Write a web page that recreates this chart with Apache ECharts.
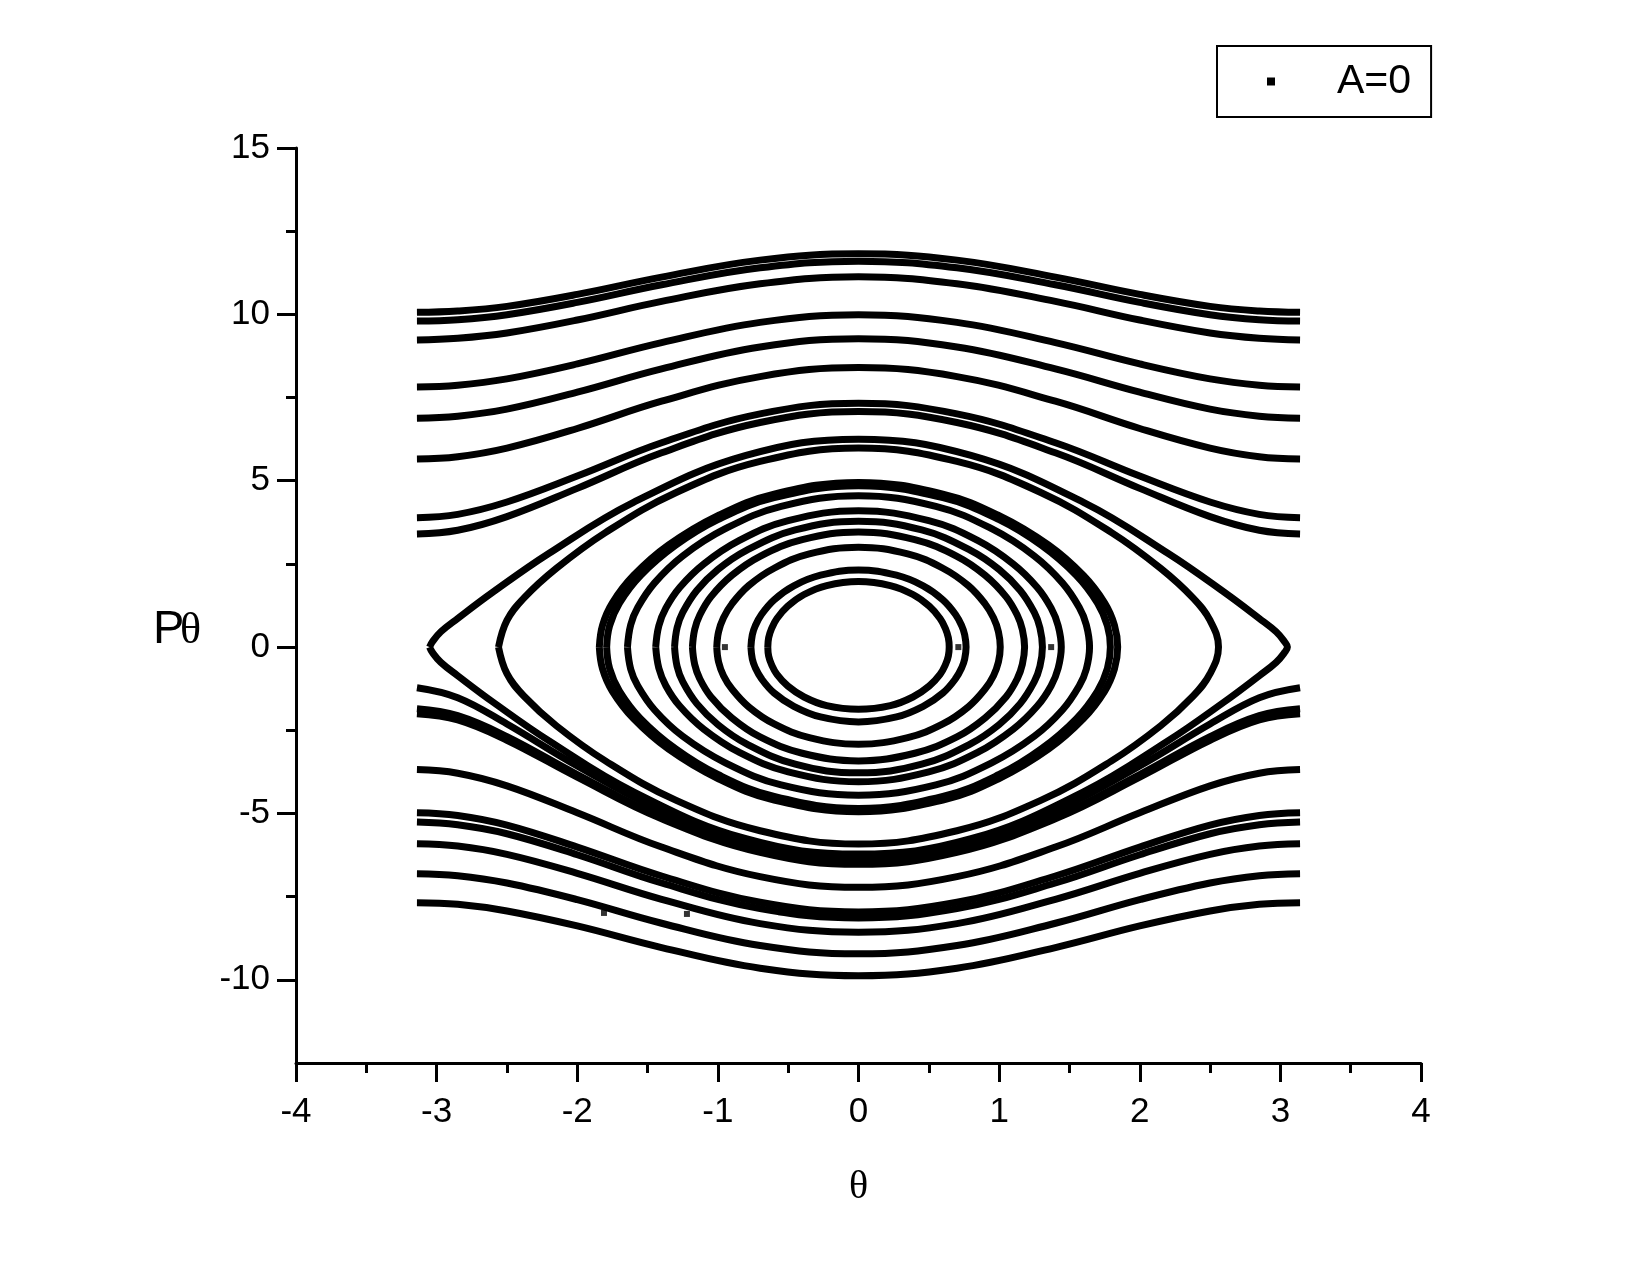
<!DOCTYPE html>
<html><head><meta charset="utf-8">
<script src="https://cdn.jsdelivr.net/npm/echarts@6/dist/echarts.min.js"></script>
<style>html,body{margin:0;padding:0;background:#fff}#c{width:1650px;height:1275px}</style>
</head><body><div id="c"></div>
<script>
// ---- data ----
const xTicks = [-4, -3, -2, -1, 0, 1, 2, 3, 4];
const yTicks = [-10, -5, 0, 5, 10, 15];
const yMinorTicks = [-7.5, -2.5, 2.5, 7.5, 12.5];
const yMin = -12.5, yMax = 15;
const seriesName = 'A=0';

// rotating (open) trajectories, sampled at these theta values
const rotTheta = [-3.14, -2.85, -2.5, -2.0, -1.4, -0.7, 0, 0.7, 1.4, 2.0, 2.5, 2.85, 3.14];
const upperRotations = [
  [10.06, 10.10, 10.24, 10.60, 11.12, 11.63, 11.82, 11.63, 11.12, 10.60, 10.24, 10.10, 10.06],
  [9.80, 9.84, 9.99, 10.36, 10.89, 11.40, 11.60, 11.40, 10.89, 10.36, 9.99, 9.84, 9.80],
  [9.23, 9.28, 9.44, 9.83, 10.39, 10.92, 11.13, 10.92, 10.39, 9.83, 9.44, 9.28, 9.23],
  [7.82, 7.87, 8.06, 8.51, 9.15, 9.76, 9.99, 9.76, 9.15, 8.51, 8.06, 7.87, 7.82],
  [6.88, 6.94, 7.15, 7.66, 8.36, 9.02, 9.27, 9.02, 8.36, 7.66, 7.15, 6.94, 6.88],
  [5.65, 5.72, 5.98, 6.57, 7.39, 8.13, 8.40, 8.13, 7.39, 6.57, 5.98, 5.72, 5.65],
  [3.89, 3.99, 4.36, 5.14, 6.14, 7.01, 7.33, 7.01, 6.14, 5.14, 4.36, 3.99, 3.89],
  [3.40, 3.51, 3.92, 4.77, 5.84, 6.75, 7.08, 6.75, 5.84, 4.77, 3.92, 3.51, 3.40]
];
const lowerRotations = [
  [-1.22, -1.52, -2.31, -3.57, -4.91, -5.96, -6.33, -5.96, -4.91, -3.57, -2.31, -1.52, -1.22],
  [-1.85, -2.06, -2.69, -3.83, -5.10, -6.12, -6.48, -6.12, -5.10, -3.83, -2.69, -2.06, -1.85],
  [-2.00, -2.19, -2.80, -3.91, -5.16, -6.17, -6.53, -6.17, -5.16, -3.91, -2.80, -2.19, -2.00],
  [-3.68, -3.79, -4.17, -4.98, -6.01, -6.90, -7.22, -6.90, -6.01, -4.98, -4.17, -3.79, -3.68],
  [-4.98, -5.06, -5.35, -6.01, -6.88, -7.67, -7.96, -7.67, -6.88, -6.01, -5.35, -5.06, -4.98],
  [-5.26, -5.34, -5.61, -6.24, -7.09, -7.86, -8.14, -7.86, -7.09, -6.24, -5.61, -5.34, -5.26],
  [-5.91, -5.98, -6.23, -6.80, -7.58, -8.31, -8.57, -8.31, -7.58, -6.80, -6.23, -5.98, -5.91],
  [-6.81, -6.87, -7.09, -7.59, -8.30, -8.97, -9.22, -8.97, -8.30, -7.59, -7.09, -6.87, -6.81],
  [-7.68, -7.73, -7.93, -8.38, -9.03, -9.65, -9.88, -9.65, -9.03, -8.38, -7.93, -7.73, -7.68]
];

// oscillating (closed) trajectories: theta samples, upper branch, lower branch
const orbitTheta = [
  [-3.05, -3.03, -2.97, -2.85, -2.6, -2.2, -1.6, -0.8, 0, 0.8, 1.6, 2.2, 2.6, 2.85, 2.97, 3.03, 3.05],
  [-2.56, -2.5, -2.38, -2.15, -1.8, -1.3, -0.7, 0, 0.7, 1.3, 1.8, 2.15, 2.38, 2.5, 2.56],
  [-1.843, -1.82, -1.75, -1.6, -1.35, -1.0, -0.6, 0, 0.6, 1.0, 1.35, 1.6, 1.75, 1.82, 1.843],
  [-1.791, -1.77, -1.7, -1.55, -1.3, -1.0, -0.6, 0, 0.6, 1.0, 1.3, 1.55, 1.7, 1.77, 1.791],
  [-1.643, -1.62, -1.57, -1.45, -1.25, -0.95, -0.55, 0, 0.55, 0.95, 1.25, 1.45, 1.57, 1.62, 1.643],
  [-1.442, -1.42, -1.37, -1.27, -1.1, -0.85, -0.5, 0, 0.5, 0.85, 1.1, 1.27, 1.37, 1.42, 1.442],
  [-1.308, -1.29, -1.25, -1.15, -1.0, -0.8, -0.45, 0, 0.45, 0.8, 1.0, 1.15, 1.25, 1.29, 1.308],
  [-1.181, -1.165, -1.13, -1.05, -0.9, -0.7, -0.4, 0, 0.4, 0.7, 0.9, 1.05, 1.13, 1.165, 1.181],
  [-1.008, -0.995, -0.96, -0.9, -0.78, -0.6, -0.35, 0, 0.35, 0.6, 0.78, 0.9, 0.96, 0.995, 1.008],
  [-0.765, -0.755, -0.735, -0.69, -0.6, -0.46, -0.27, 0, 0.27, 0.46, 0.6, 0.69, 0.735, 0.755, 0.765],
  [-0.645, -0.639, -0.619, -0.58, -0.503, -0.387, -0.226, 0, 0.226, 0.387, 0.503, 0.58, 0.619, 0.639, 0.645]
];
const orbitUpper = [
  [0, 0.16, 0.46, 0.86, 1.65, 2.82, 4.35, 5.76, 6.25, 5.76, 4.35, 2.82, 1.65, 0.86, 0.46, 0.16, 0],
  [0, 0.80, 1.47, 2.36, 3.44, 4.64, 5.58, 5.98, 5.58, 4.64, 3.44, 2.36, 1.47, 0.80, 0],
  [0, 0.66, 1.33, 2.15, 3.07, 3.95, 4.60, 4.95, 4.60, 3.95, 3.07, 2.15, 1.33, 0.66, 0],
  [0, 0.64, 1.32, 2.15, 3.06, 3.83, 4.49, 4.85, 4.49, 3.83, 3.06, 2.15, 1.32, 0.64, 0],
  [0, 0.67, 1.19, 1.93, 2.74, 3.55, 4.23, 4.55, 4.23, 3.55, 2.74, 1.93, 1.19, 0.67, 0],
  [0, 0.64, 1.17, 1.80, 2.50, 3.20, 3.80, 4.10, 3.80, 3.20, 2.50, 1.80, 1.17, 0.64, 0],
  [0, 0.58, 1.04, 1.70, 2.33, 2.90, 3.52, 3.78, 3.52, 2.90, 2.33, 1.70, 1.04, 0.58, 0],
  [0, 0.53, 0.95, 1.51, 2.16, 2.73, 3.23, 3.46, 3.23, 2.73, 2.16, 1.51, 0.95, 0.53, 0],
  [0, 0.46, 0.88, 1.30, 1.85, 2.37, 2.80, 3.00, 2.80, 2.37, 1.85, 1.30, 0.88, 0.46, 0],
  [0, 0.37, 0.63, 0.98, 1.42, 1.84, 2.16, 2.32, 2.16, 1.84, 1.42, 0.98, 0.63, 0.37, 0],
  [0, 0.28, 0.55, 0.86, 1.23, 1.58, 1.85, 1.97, 1.85, 1.58, 1.23, 0.86, 0.55, 0.28, 0]
];
const orbitLower = [
  [0, -0.16, -0.46, -0.86, -1.65, -2.82, -4.35, -5.76, -6.22, -5.76, -4.35, -2.82, -1.65, -0.86, -0.46, -0.16, 0],
  [0, -0.80, -1.47, -2.36, -3.42, -4.60, -5.52, -5.92, -5.52, -4.60, -3.42, -2.36, -1.47, -0.80, 0],
  [0, -0.66, -1.33, -2.15, -3.07, -3.95, -4.60, -4.95, -4.60, -3.95, -3.07, -2.15, -1.33, -0.66, 0],
  [0, -0.64, -1.32, -2.15, -3.06, -3.83, -4.49, -4.85, -4.49, -3.83, -3.06, -2.15, -1.32, -0.64, 0],
  [0, -0.66, -1.16, -1.89, -2.68, -3.47, -4.14, -4.45, -4.14, -3.47, -2.68, -1.89, -1.16, -0.66, 0],
  [0, -0.63, -1.16, -1.78, -2.47, -3.16, -3.75, -4.05, -3.75, -3.16, -2.47, -1.78, -1.16, -0.63, 0],
  [0, -0.58, -1.04, -1.70, -2.33, -2.90, -3.52, -3.78, -3.52, -2.90, -2.33, -1.70, -1.04, -0.58, 0],
  [0, -0.52, -0.94, -1.49, -2.13, -2.70, -3.19, -3.42, -3.19, -2.70, -2.13, -1.49, -0.94, -0.52, 0],
  [0, -0.45, -0.86, -1.26, -1.80, -2.31, -2.72, -2.92, -2.72, -2.31, -1.80, -1.26, -0.86, -0.45, 0],
  [0, -0.36, -0.61, -0.95, -1.38, -1.78, -2.10, -2.25, -2.10, -1.78, -1.38, -0.95, -0.61, -0.36, 0],
  [0, -0.27, -0.52, -0.82, -1.17, -1.50, -1.76, -1.87, -1.76, -1.50, -1.17, -0.82, -0.52, -0.27, 0]
];
// isolated stray points
const strayPoints = [[-0.95, 0], [0.71, 0], [1.37, 0], [-1.81, -7.99], [-1.22, -8.02], [-0.55, -7.97]];

// ---- chart ----
const SANS = "'Liberation Sans', Arial, sans-serif";
const SERIF = "'Liberation Serif', 'Times New Roman', serif";
const LW = 7;
const series = [];
upperRotations.concat(lowerRotations).forEach(vals => {
  series.push({
    type: 'line', name: seriesName, symbol: 'none', smooth: 0.4,
    data: rotTheta.map((t, i) => [t, vals[i]]),
    lineStyle: { color: '#000', width: LW }, itemStyle: { color: '#000' },
    silent: true, animation: false
  });
});
orbitTheta.forEach((th, k) => {
  const up = th.map((t, i) => [t, orbitUpper[k][i]]);
  const lo = th.map((t, i) => [t, orbitLower[k][i]]).reverse().slice(1);
  series.push({
    type: 'line', name: seriesName, symbol: 'none', smooth: 0.4,
    data: up.concat(lo),
    lineStyle: { color: '#000', width: LW }, itemStyle: { color: '#000' },
    silent: true, animation: false
  });
});
series.push({
  type: 'scatter', name: seriesName, symbol: 'rect', symbolSize: 6,
  data: strayPoints, itemStyle: { color: '#000' }, silent: true, animation: false
});

const chart = echarts.init(document.getElementById('c'), null, { renderer: 'canvas' });
chart.setOption({
  backgroundColor: '#fff',
  animation: false,
  grid: { left: 296, right: 229, top: 148, bottom: 212, outerBoundsMode: 'none' },
  legend: {
    data: [seriesName], left: 1217, top: 46, icon: 'rect', itemWidth: 8, itemHeight: 8,
    padding: [15, 20, 15, 50], borderColor: '#000', borderWidth: 2, selectedMode: false,
    textStyle: { fontSize: 41, color: '#000', fontFamily: SANS, padding: [0, 0, 0, 57] }
  },
  xAxis: {
    type: 'value', min: xTicks[0], max: xTicks[xTicks.length - 1], interval: 1,
    position: 'bottom',
    axisLine: { show: true, onZero: false, lineStyle: { color: '#000', width: 3 } },
    axisTick: { show: true, length: 19, lineStyle: { color: '#000', width: 3 } },
    minorTick: { show: true, splitNumber: 2, length: 10, lineStyle: { color: '#000', width: 3 } },
    axisLabel: { color: '#000', fontSize: 35, fontFamily: SANS, margin: 32 },
    splitLine: { show: false },
    name: 'θ', nameLocation: 'middle', nameGap: 104,
    nameTextStyle: { color: '#000', fontSize: 40, fontFamily: SERIF }
  },
  yAxis: [
    {
      type: 'value', min: yMin, max: yMax, position: 'left',
      axisLine: { show: true, onZero: false, lineStyle: { color: '#000', width: 3 } },
      axisTick: { show: true, length: 19, customValues: yTicks, lineStyle: { color: '#000', width: 3 } },
      axisLabel: { color: '#000', fontSize: 35, fontFamily: SANS, margin: 26, customValues: yTicks },
      splitLine: { show: false }
    },
    {
      type: 'value', min: yMin, max: yMax, position: 'left',
      axisLine: { show: false, onZero: false },
      axisTick: { show: true, length: 10, customValues: yMinorTicks, lineStyle: { color: '#000', width: 3 } },
      axisLabel: { show: false },
      splitLine: { show: false }
    }
  ],
  graphic: [
    { type: 'text', x: 153, y: 630, style: { text: 'P', font: '47px ' + SANS, fill: '#000', verticalAlign: 'middle', align: 'left' } },
    { type: 'text', x: 180, y: 631, style: { text: 'θ', font: '44px ' + SERIF, fill: '#000', verticalAlign: 'middle', align: 'left' } }
  ],
  series: series
});
</script>
</body></html>
